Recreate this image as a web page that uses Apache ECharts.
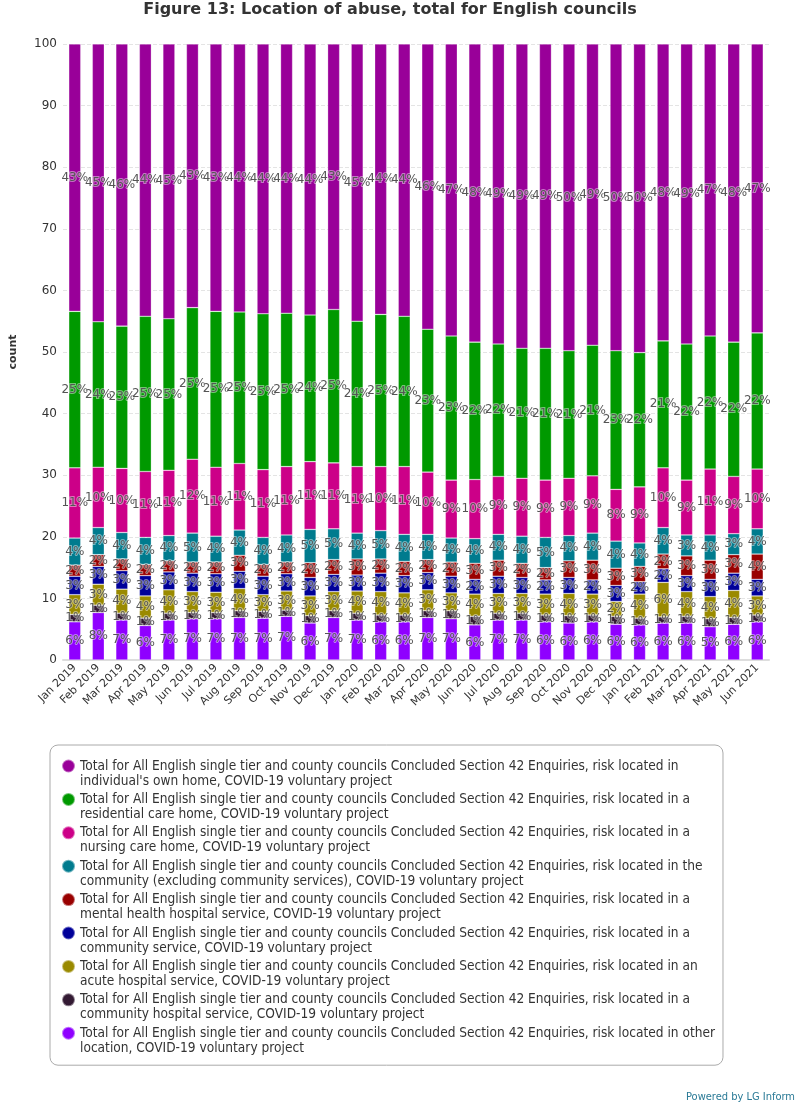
<!DOCTYPE html>
<html>
<head>
<meta charset="utf-8">
<script src="https://cdn.jsdelivr.net/npm/echarts@6/dist/echarts.min.js"></script>
<style>html,body{margin:0;padding:0;background:#fff}#c{width:800px;height:1103px}</style>
</head>
<body>
<div id="c"></div>
<script>
const categories = ['Jan 2019','Feb 2019','Mar 2019','Apr 2019','May 2019','Jun 2019','Jul 2019','Aug 2019','Sep 2019','Oct 2019','Nov 2019','Dec 2019','Jan 2020','Feb 2020','Mar 2020','Apr 2020','May 2020','Jun 2020','Jul 2020','Aug 2020','Sep 2020','Oct 2020','Nov 2020','Dec 2020','Jan 2021','Feb 2021','Mar 2021','Apr 2021','May 2021','Jun 2021'];
const yTicks = [0,10,20,30,40,50,60,70,80,90,100];

const otherLocation = [6.2,7.7,6.5,5.6,6.5,6.7,6.7,6.9,6.8,7.1,6.0,6.9,6.5,6.2,6.2,6.9,6.7,5.7,6.5,6.5,6.2,6.0,6.2,5.8,5.7,6.0,6.0,5.4,5.8,6.2];
const communityHospital = [1.2,1.2,1.1,1.2,1.1,1.0,1.0,1.1,1.1,1.0,1.2,1.1,1.1,1.1,1.1,1.1,1.3,1.4,1.1,1.1,1.1,1.2,1.1,1.3,1.1,1.0,1.1,1.3,1.1,1.1];
const acuteHospital = [3.2,3.4,3.9,3.6,3.8,3.4,3.3,3.6,2.7,3.1,3.2,3.1,3.6,3.8,3.6,3.4,2.9,3.6,3.2,3.2,3.4,3.6,3.4,2.4,3.9,5.6,4.0,3.6,4.4,3.1];
const communityService = [3.0,2.9,3.0,3.3,2.9,3.0,3.0,2.8,3.0,2.8,3.0,2.8,2.6,3.0,2.8,2.8,2.7,2.4,2.8,2.6,2.3,2.6,2.3,2.6,2.0,2.2,2.6,2.8,2.8,2.7];
const mentalHealth = [1.8,1.9,1.9,1.8,1.8,1.8,1.9,2.6,1.9,1.9,2.4,2.4,2.6,2.3,2.3,2.1,2.3,2.6,2.6,2.3,2.0,2.7,3.2,2.8,2.5,2.4,3.2,3.1,3.0,4.1];
const community = [4.4,4.4,4.3,4.4,4.1,4.7,4.2,4.1,4.4,4.4,5.4,5.0,4.2,4.6,4.4,4.1,3.9,4.0,4.2,4.4,4.9,4.1,4.4,4.4,3.8,4.3,3.4,4.1,3.4,4.1];
const nursingHome = [11.4,9.8,10.4,10.7,10.6,12.0,11.2,10.8,11.0,11.1,11.0,10.7,10.8,10.4,11.0,10.1,9.4,9.6,9.4,9.4,9.3,9.3,9.3,8.4,9.1,9.7,8.9,10.7,9.3,9.7];
const residentialHome = [25.4,23.6,23.1,25.2,24.6,24.6,25.3,24.6,25.3,24.9,23.8,24.9,23.6,24.7,24.4,23.2,23.4,22.3,21.5,21.1,21.4,20.7,21.2,22.5,21.8,20.6,22.1,21.6,21.8,22.1];
const ownHome = [43.4,45.1,45.8,44.2,44.6,42.8,43.4,43.5,43.8,43.7,44.0,43.1,45.0,43.9,44.2,46.3,47.4,48.4,48.7,49.4,49.4,49.8,48.9,49.8,50.1,48.2,48.7,47.4,48.4,46.9];

const prefix = 'Total for All English single tier and county councils Concluded Section 42 Enquiries, risk located in';
const seriesNames = [
  prefix + " other\nlocation, COVID-19 voluntary project",
  prefix + " a\ncommunity hospital service, COVID-19 voluntary project",
  prefix + " an\nacute hospital service, COVID-19 voluntary project",
  prefix + " a\ncommunity service, COVID-19 voluntary project",
  prefix + " a\nmental health hospital service, COVID-19 voluntary project",
  prefix + " the\ncommunity (excluding community services), COVID-19 voluntary project",
  prefix + " a\nnursing care home, COVID-19 voluntary project",
  prefix + " a\nresidential care home, COVID-19 voluntary project",
  prefix + "\nindividual's own home, COVID-19 voluntary project"
];
const seriesData = [otherLocation, communityHospital, acuteHospital, communityService, mentalHealth, community, nursingHome, residentialHome, ownHome];
const colors = ['#8f00ff','#331a33','#9a8a00','#000099','#990000','#007b8e','#cc0088','#009900','#990099'];

const FONT = 'DejaVu Sans';
const chart = echarts.init(document.getElementById('c'), null, {renderer: 'canvas'});

const legendIcon = 'path://M0,7.5A6.5,6.5 0 1,1 13,7.5A6.5,6.5 0 1,1 0,7.5ZM6.5,0M6.5,30';

chart.setOption({
  animation: false,
  color: colors,
  textStyle: {fontFamily: FONT},
  title: [{
    text: 'Figure 13: Location of abuse, total for English councils',
    left: 385, textAlign: 'center', top: -3,
    textStyle: {fontFamily: FONT, fontSize: 16, fontWeight: 'bold', color: '#333'}
  }, {
    text: 'Powered by LG Inform',
    right: 5, bottom: 0, padding: 0,
    textStyle: {fontFamily: 'DejaVu Sans Condensed', fontSize: 11, fontWeight: 'normal', color: '#2a7a96'}
  }],
  grid: {left: 61, right: 31, top: 44, bottom: 443, containLabel: false},
  xAxis: {
    type: 'category',
    data: categories,
    axisLine: {lineStyle: {color: '#ddd', width: 2}},
    axisTick: {show: false},
    axisLabel: {rotate: 45, fontSize: 11, color: '#333', margin: 6, interval: 0, fontFamily: FONT}
  },
  yAxis: {
    type: 'value', min: 0, max: 100, interval: 10,
    name: 'count', nameLocation: 'middle', nameGap: 44, nameRotate: 90,
    nameTextStyle: {fontSize: 11, fontWeight: 'bold', color: '#333', fontFamily: FONT},
    axisLine: {show: false}, axisTick: {show: false},
    axisLabel: {fontSize: 12, color: '#333', margin: 6, fontFamily: FONT,
      formatter: v => yTicks.indexOf(v) >= 0 ? String(v) : ''},
    splitLine: {lineStyle: {color: '#e4e4e4', type: 'dashed'}}
  },
  legend: {
    orient: 'vertical', left: 50, top: 745,
    data: seriesNames.slice().reverse(),
    icon: legendIcon, itemWidth: 13, itemHeight: 30, itemGap: 1.4,
    padding: [12.5, 8, 8.5, 11],
    borderColor: '#aaa', borderWidth: 1, borderRadius: 8,
    textStyle: {fontFamily: 'DejaVu Sans Condensed', fontSize: 13.6, lineHeight: 15, color: '#333'},
    selectedMode: false
  },
  series: seriesNames.map((n, i) => ({
    name: n, type: 'bar', stack: 'total', barWidth: 12,
    data: seriesData[i],
    itemStyle: {color: colors[i], borderColor: 'rgba(255,255,255,0.45)', borderWidth: 0.6},
    label: {
      show: true, position: 'inside', fontSize: 12, color: '#555', fontFamily: FONT,
      textBorderColor: 'rgba(255,255,255,0.45)', textBorderWidth: 2,
      formatter: p => Math.round(p.value) + '%'
    }
  }))
});
</script>
</body>
</html>
